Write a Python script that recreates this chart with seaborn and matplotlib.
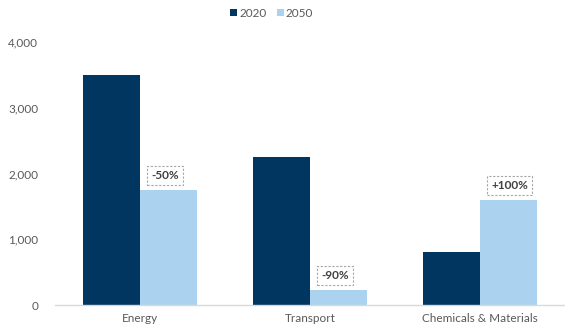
import matplotlib
matplotlib.use("Agg")
import matplotlib.pyplot as plt
import seaborn as sns
import pandas as pd

categories = ["Energy", "Transport", "Chemicals & Materials"]
years = ["2020", "2050"]
values_2020 = [3500, 2250, 800]
values_2050 = [1750, 225, 1600]
changes = ["-50%", "-90%", "+100%"]
yticks = [0, 1000, 2000, 3000, 4000]

df = pd.DataFrame({
    "category": categories * 2,
    "year": [years[0]] * 3 + [years[1]] * 3,
    "value": values_2020 + values_2050,
})

sns.set_theme(style="white")
plt.rcParams["font.family"] = ["Lato", "DejaVu Sans"]

fig = plt.figure(figsize=(5.65, 3.33), dpi=100)
ax = fig.add_axes([0.097, 0.084, 0.903, 0.79])

palette = {"2020": "#003660", "2050": "#abd3f0"}
sns.barplot(data=df, x="category", y="value", hue="year", palette=palette,
            width=0.667, ax=ax, saturation=1, legend=True, linewidth=0)

ax.set_ylim(0, 4000)
ax.set_yticks(yticks)
ax.set_yticklabels([f"{v:,}" for v in yticks])
ax.set_xlim(-0.5, 2.5)
ax.set_xlabel("")
ax.set_ylabel("")
for s in ["top", "right", "left"]:
    ax.spines[s].set_visible(False)
ax.spines["bottom"].set_color("#d9d9d9")
ax.spines["bottom"].set_linewidth(1)
ax.tick_params(axis="both", length=0, labelsize=8.5, colors="#595959", pad=6)
ax.tick_params(axis="y", pad=12)

# annotations above 2050 bars
bars_2050 = ax.containers[1]
for patch, txt in zip(bars_2050, changes):
    x = patch.get_x() + patch.get_width() * 0.2
    y = patch.get_height()
    ax.annotate(txt, xy=(x, y), xytext=(0, 6.5), textcoords="offset points",
                ha="left", va="bottom", fontsize=8.5, fontweight="bold", color="#404040",
                bbox=dict(boxstyle="square,pad=0.35", fc="white", ec="#a6a6a6",
                          ls=(0, (2, 1.5)), lw=0.8))

leg = ax.legend(loc="center", bbox_to_anchor=(0.425, 1.11), ncol=2, frameon=False,
                fontsize=8.5, handlelength=0.6, handleheight=0.6, handletextpad=0.15,
                columnspacing=0.9, labelcolor="#595959", borderaxespad=0)

fig.savefig("out.png", dpi=100)
